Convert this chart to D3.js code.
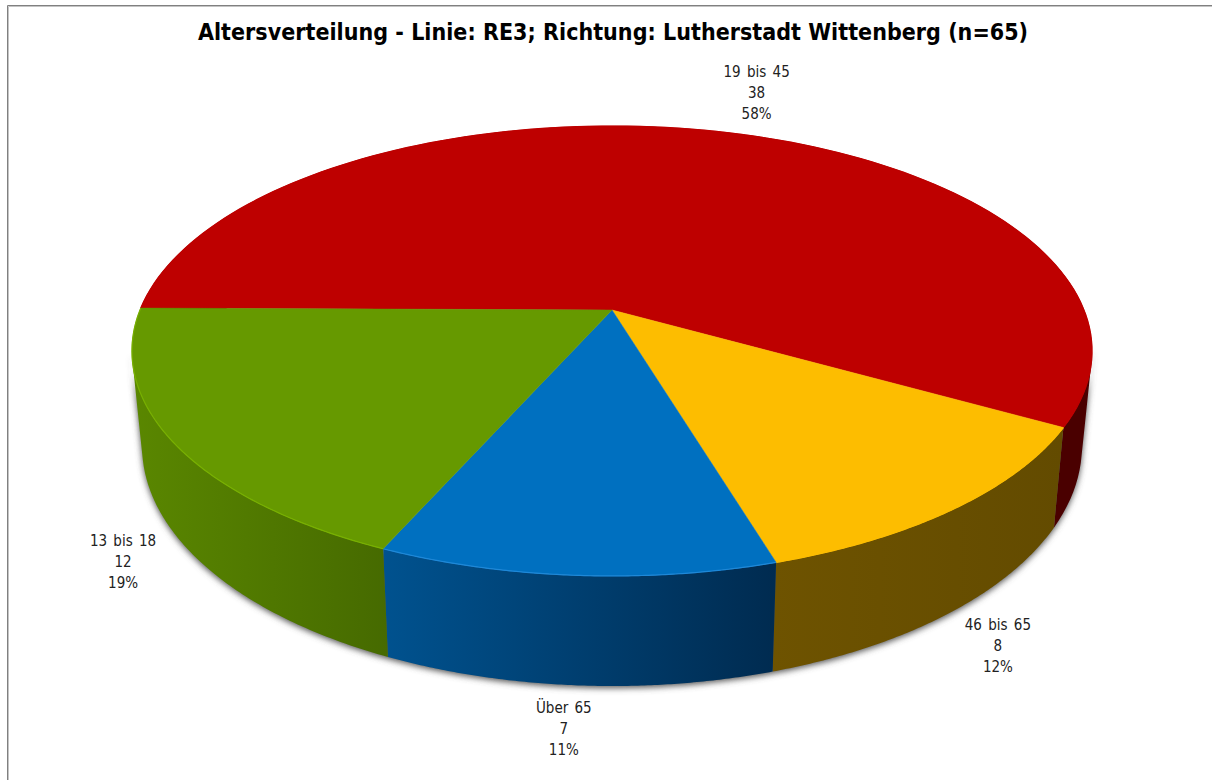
<!DOCTYPE html>
<html><head><meta charset="utf-8">
<style>html,body{margin:0;padding:0;background:#fff}svg{display:block}</style>
<script src="https://cdn.jsdelivr.net/npm/d3@7/dist/d3.min.js"></script></head>
<body><svg id="c" width="1212" height="780"></svg>
<script>
const titleText = "Altersverteilung - Linie: RE3; Richtung: Lutherstadt Wittenberg (n=65)";
const categories = ["19 bis 45", "46 bis 65", "Über 65", "13 bis 18"];
const values = [38, 8, 7, 12];
const percentLabels = ["58%", "12%", "11%", "19%"];
const topColors = ["#BE0000", "#FDBD00", "#0070C0", "#669900"];
const rimColors = ["#BE0000", "#FDBD00", "#1E88D8", "#78B000"];
const wallFrom = ["#4A0000", "#6E5300", "#00528F", "#5A8700"];
const wallTo = ["#4A0000", "#634B00", "#002B50", "#466A00"];

const svg = d3.select("#c");
const defs = svg.append("defs");
defs.append("filter").attr("id","blur").attr("x","-5%").attr("y","-5%").attr("width","110%").attr("height","110%")
  .append("feGaussianBlur").attr("stdDeviation",3);

// frame
svg.append("path").attr("d","M8.5,780V6.5H1212").attr("fill","none").attr("stroke","#c4c4c4").attr("stroke-width",1);
svg.append("path").attr("d","M7.5,780V5.5H1212").attr("fill","none").attr("stroke","#808080").attr("stroke-width",1);

// projection of the pie plane: perspective with a slight off-axis angle warp
const k = 0.1822, A = 217.5, B = 472, cx = 612, cy = 310;
const rad = Math.PI/180;
const warp = (a) => a + (1.307*Math.sin(2*a) - 0.691*Math.cos(2*a) - 0.19)*rad;
const top3d = (a0) => { const a=warp(a0), c=Math.cos(a), s=Math.sin(a), w=1+k*c; return [cx+B*s/w, cy-A*c/w]; };
const bot3d = (a) => { const [x,y]=top3d(a); return [cx+(x-cx)*0.979, 446+(y-351)*1.067]; };
const arcPts = (f,a0,a1) => d3.range(0,121).map(i=>f(a0+(a1-a0)*i/120));
const line = d3.line();

// side wall as one path of equally oriented quads, so folded parts never cancel out
const wallPath = (a0,a1) => {
  const t=arcPts(top3d,a0,a1), b=arcPts(bot3d,a0,a1);
  let out="";
  for(let i=0;i<t.length-1;i++){
    const q=[t[i],t[i+1],b[i+1],b[i]];
    if(d3.polygonArea(q)<0) q.reverse();
    out+=line(q)+"Z";
  }
  return out;
};

const pie = d3.pie().sort(null).startAngle(-Math.PI/2).endAngle(1.5*Math.PI);
const arcs = pie(values);

// drop shadow
svg.append("path").attr("d", wallPath(100*rad,258*rad))
  .attr("transform","translate(0,2)").attr("fill","#555").attr("filter","url(#blur)");

// walls
const wg = svg.append("g");
arcs.forEach((d,i)=>{
  const id="w"+i;
  const g=defs.append("linearGradient").attr("id",id);
  g.append("stop").attr("offset",0).attr("stop-color",wallFrom[i]);
  g.append("stop").attr("offset",1).attr("stop-color",wallTo[i]);
  wg.append("path").attr("d",wallPath(d.startAngle,d.endAngle)).attr("fill",`url(#${id})`);
});

// top faces
const tg = svg.append("g");
arcs.forEach((d,i)=>{
  const t=arcPts(top3d,d.startAngle,d.endAngle);
  tg.append("path").attr("d",line([[cx,cy]].concat(t))+"Z").attr("fill",topColors[i]).attr("stroke",topColors[i]).attr("stroke-width",0.5);
  tg.append("path").attr("d",line(t)).attr("fill","none").attr("stroke",rimColors[i]).attr("stroke-width",1.2);
});

// title
svg.append("text").attr("x",613).attr("y",40).attr("text-anchor","middle")
  .attr("font-family","'DejaVu Sans Condensed','DejaVu Sans'").attr("font-stretch","condensed").attr("font-weight","bold").attr("font-size",23)
  .attr("letter-spacing",0.03).attr("fill","#000").text(titleText);

// labels
const nudges = [[40,-38],[47,34],[-14,44],[-55,24]];
arcs.forEach((d,i)=>{
  const m=(d.startAngle+d.endAngle)/2;
  const p = i===0 ? top3d(m) : bot3d(m);
  const x=p[0]+nudges[i][0], y=p[1]+nudges[i][1];
  const t=svg.append("text").attr("text-anchor","middle").attr("word-spacing",2)
    .attr("font-family","'DejaVu Sans Condensed','DejaVu Sans'").attr("font-size",15).attr("fill","#222");
  [categories[i], String(values[i]), percentLabels[i]].forEach((s,j)=>{
    t.append("tspan").attr("x",x).attr("y",y+5+(j-1)*21).text(s);
  });
});
</script></body></html>
